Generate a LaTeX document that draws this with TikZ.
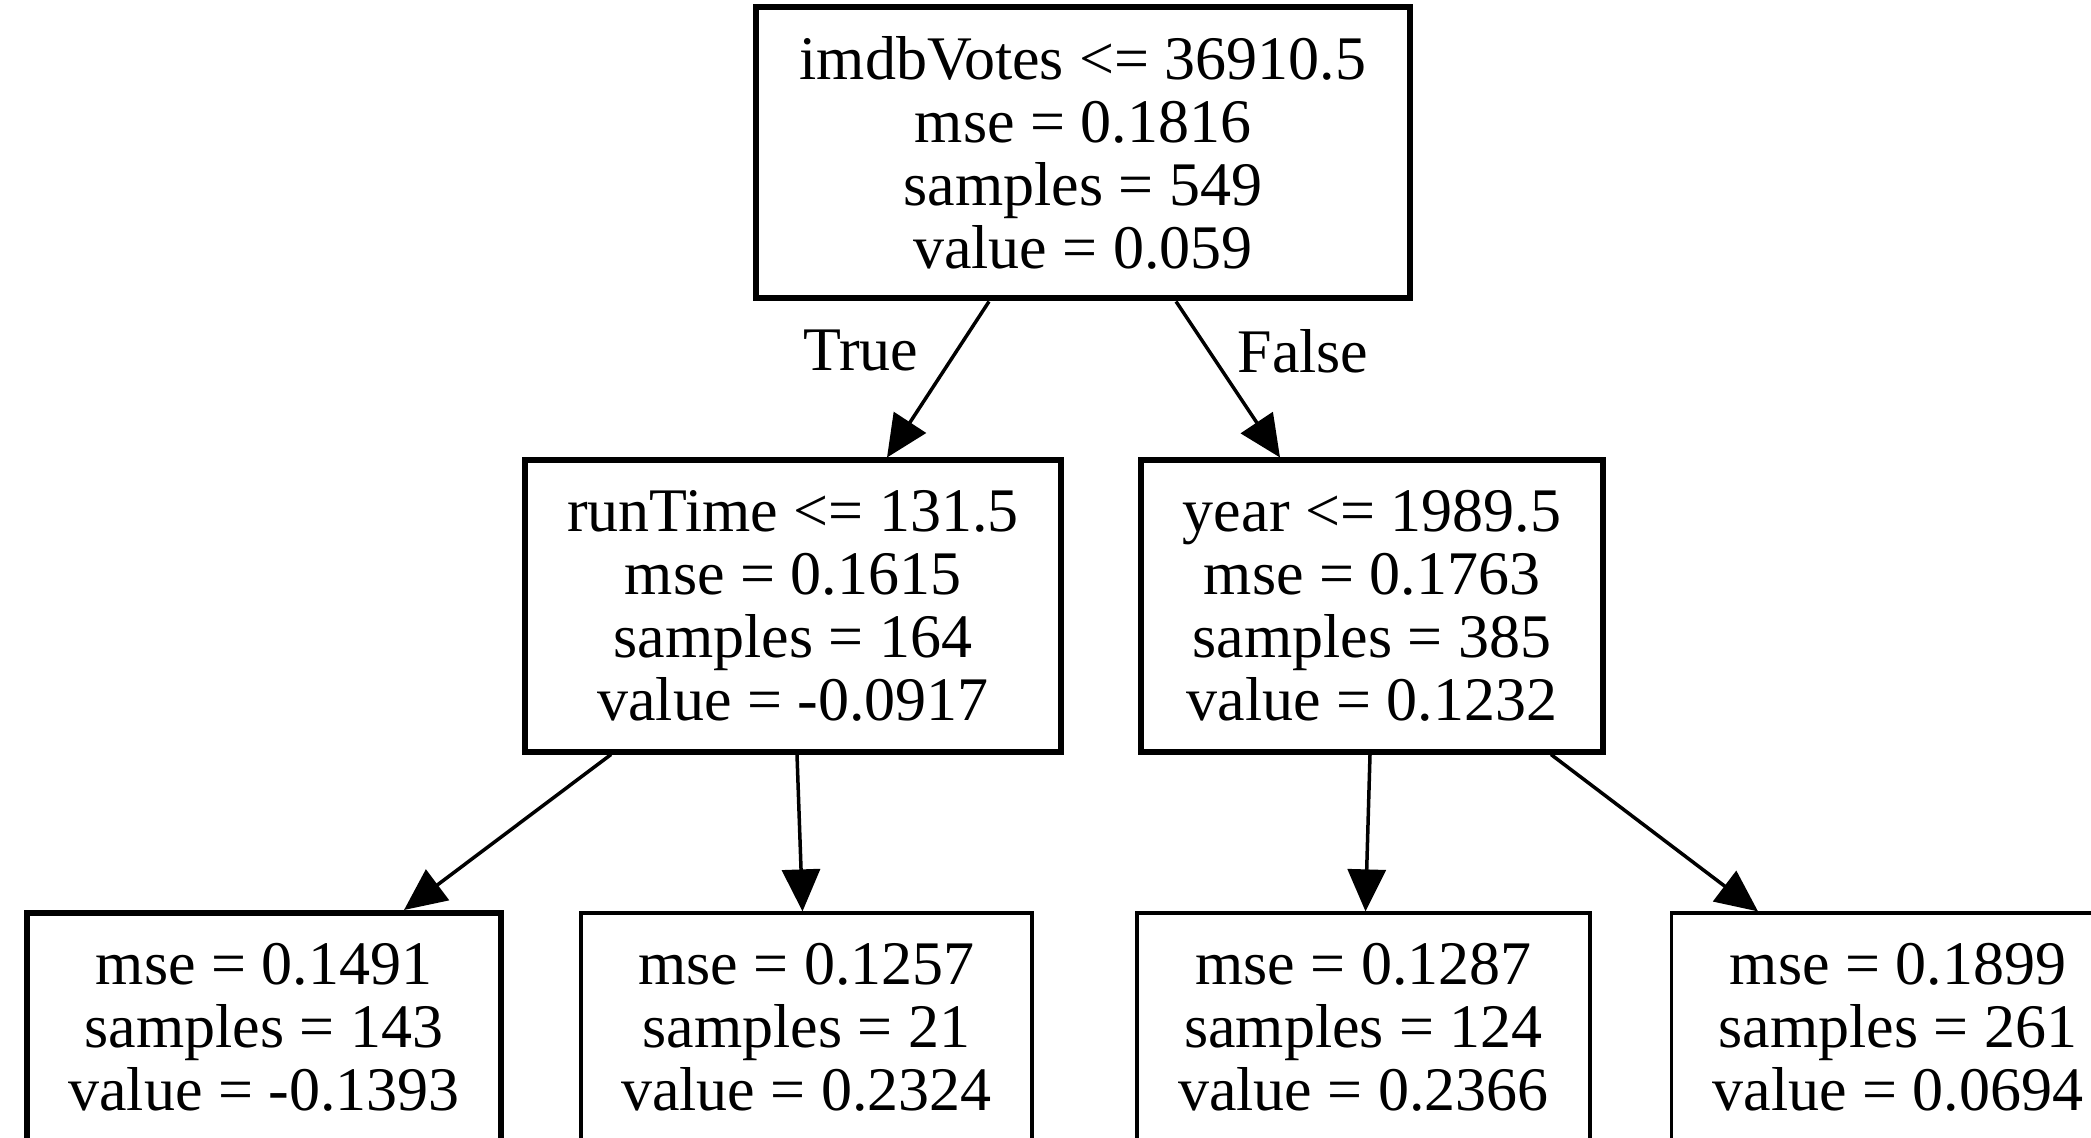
\documentclass[tikz,border=0pt]{standalone}
\usepackage{fontspec}
\setmainfont{Liberation Serif}
\usetikzlibrary{arrows.meta}
\begin{document}
\begin{tikzpicture}[x=0.5pt,y=-0.5pt,
  txt/.style={font=\fontsize{31}{31.5}\selectfont},
  splitbox/.style={draw,line width=3pt,rectangle,inner sep=0pt,align=center,txt,minimum height=145.5pt},
  leafthick/.style={draw,line width=3pt,rectangle,inner sep=0pt,align=center,txt,minimum height=114pt},
  leafbox/.style={draw,line width=1.6pt,rectangle,inner sep=0pt,align=center,txt,minimum height=114pt},
  edge/.style={line width=1.75pt,-{Triangle[length=21pt,width=19pt]}},
  elabel/.style={txt,inner sep=0pt}]
\clip (0,0) rectangle (2091,1138);
\fill[white] (0,0) rectangle (2091,1138);
\node[splitbox,minimum width=327pt] (root) at (1083,153) {imdbVotes <= 36910.5\\mse = 0.1816\\samples = 549\\value = 0.059};
\node[splitbox,minimum width=268pt] (rt) at (793,606) {runTime <= 131.5\\mse = 0.1615\\samples = 164\\value = -0.0917};
\node[splitbox,minimum width=231pt] (yr) at (1372,606) {year <= 1989.5\\mse = 0.1763\\samples = 385\\value = 0.1232};
\node[leafthick,minimum width=237pt] (l1) at (264,1027) {mse = 0.1491\\samples = 143\\value = -0.1393};
\node[leafbox,minimum width=225.5pt] (l2) at (806.5,1027) {mse = 0.1257\\samples = 21\\value = 0.2324};
\node[leafbox,minimum width=226.5pt] (l3) at (1363.5,1027) {mse = 0.1287\\samples = 124\\value = 0.2366};
\node[leafbox,minimum width=226.5pt] (l4) at (1898,1027) {mse = 0.1899\\samples = 261\\value = 0.0694};
\draw[edge] ([xshift=-47pt]root.south) -- ([xshift=47pt]rt.north);
\draw[edge] ([xshift=46.5pt]root.south) -- ([xshift=-46pt]yr.north);
\draw[edge] ([xshift=-91pt]rt.south) -- ([xshift=70pt]l1.north);
\draw[edge] ([xshift=2pt]rt.south) -- ([xshift=-2pt]l2.north);
\draw[edge] ([xshift=-1pt]yr.south) -- ([xshift=1pt]l3.north);
\draw[edge] ([xshift=89.5pt]yr.south) -- ([xshift=-70pt]l4.north);
\node[elabel] (tlab) at (861,351) {True};
\node[elabel] (flab) at (1303,351) {False};
\end{tikzpicture}
\end{document}
